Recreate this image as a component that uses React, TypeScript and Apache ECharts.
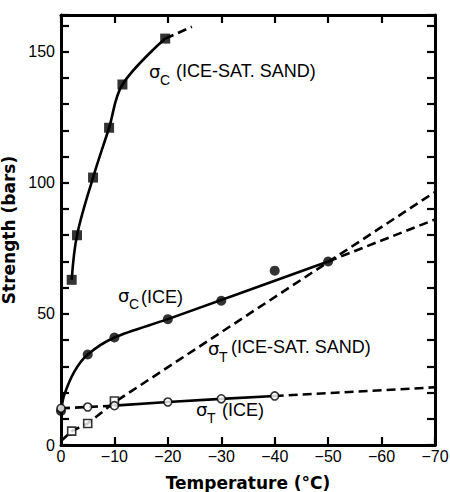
import React, { useEffect, useRef } from "react";
import * as echarts from "echarts";

// ---- data (temperature °C, strength bars) ----
const tempTicks = [0, -10, -20, -30, -40, -50, -60, -70];
const strengthLabels = [0, 50, 100, 150];

// sigma_C (ice-saturated sand) - filled squares
const sandCompPoints: [number, number][] = [[-2, 63], [-3, 80], [-6, 102], [-9, 121], [-11.5, 137.5], [-19.5, 155]];
const sandCompCurve: [number, number][] = [[-2, 63], [-3, 80], [-6, 102], [-9, 121], [-11.5, 137.5], [-19.5, 155]];
const sandCompExt: [number, number][] = [[-19.5, 155], [-24.5, 159.5]];

// sigma_C (ice) - filled circles
const iceCompPoints: [number, number][] = [[0, 13], [-5, 34.5], [-10, 41], [-20, 48], [-30, 55], [-40, 66.5], [-50, 70]];
const iceCompCurve: [number, number][] = [[0, 13], [-0.6, 19], [-2.5, 28], [-5, 34.5], [-10, 41], [-20, 48], [-50, 70]];
const iceCompExt: [number, number][] = [[-50, 70], [-70, 86]];

// sigma_T (ice-saturated sand) - open squares
const sandTensPoints: [number, number][] = [[-2, 5.3], [-5, 8.2], [-10, 16.8]];
const sandTensLine: [number, number][] = [[0, 1.5], [-2, 5.3], [-5, 8.2], [-10, 16.3], [-70, 96.5]];

// sigma_T (ice) - open circles
const iceTensPoints: [number, number][] = [[0, 14], [-5, 14.5], [-10, 15], [-20, 16.4], [-30, 17.6], [-40, 18.7]];
const iceTensDashA: [number, number][] = [[0, 14], [-10, 15]];
const iceTensSolid: [number, number][] = [[-10, 15], [-20, 16.4], [-30, 17.6], [-40, 18.7]];
const iceTensDashB: [number, number][] = [[-40, 18.7], [-70, 22]];

const BLACK = "#000";
const DASH = [9, 5];
const TICK_FONT = "'Liberation Sans', Arial, sans-serif";
const TITLE_FONT = "'DejaVu Sans', sans-serif";

function lineSeries(data: [number, number][], dashed: boolean, smooth: number | boolean = false) {
  return {
    type: "line",
    data,
    showSymbol: false,
    smooth,
    lineStyle: { color: BLACK, width: 2.6, type: dashed ? DASH : "solid", cap: "butt" },
    silent: true,
    z: 2,
  };
}

function markerSeries(data: [number, number][], symbol: string, size: number, filled: boolean) {
  return {
    type: "scatter",
    data,
    symbol,
    symbolSize: size,
    itemStyle: filled
      ? { color: BLACK, borderColor: BLACK, borderWidth: 0 }
      : { color: "#fff", borderColor: BLACK, borderWidth: 1.6 },
    silent: true,
    z: 3,
  };
}

function sigmaLabel(x: number, y: number, sub: string, rest: string, restX: number, restY: number) {
  return [
    {
      type: "text",
      left: x,
      top: y - 12,
      style: { text: "σ", font: "18px 'DejaVu Sans', sans-serif", fill: BLACK },
    },
    {
      type: "text",
      left: x + 11,
      top: y - 1,
      style: { text: sub, font: "14px 'Liberation Sans', Arial, sans-serif", fill: BLACK },
    },
    {
      type: "text",
      left: restX,
      top: restY - 10,
      style: { text: rest, font: "18px 'Liberation Sans', Arial, sans-serif", fill: BLACK },
    },
  ];
}

export default function App() {
  const ref = useRef<HTMLDivElement>(null);

  useEffect(() => {
    if (!ref.current) return;
    const chart = echarts.init(ref.current, null, { renderer: "svg" });
    const axisLine = { show: true, onZero: false, lineStyle: { color: BLACK, width: 3 } };
    const tick = {
      show: true,
      inside: true,
      length: 8,
      lineStyle: { color: BLACK, width: 2.2 },
    };
    const xBase = { type: "value", min: -70, max: 0, interval: 10, inverse: true, axisLine, axisTick: tick, splitLine: { show: false } };
    const yBase = { type: "value", min: 0, max: 164, interval: 10, axisLine, axisTick: tick, splitLine: { show: false } };
    chart.setOption({
      animation: false,
      backgroundColor: "#fff",
      grid: { left: 61, right: 15, top: 15, bottom: 47, containLabel: false, outerBoundsMode: "none" },
      xAxis: [
        {
          ...xBase,
          position: "bottom",
          axisLabel: {
            formatter: (v: number) => (tempTicks.includes(v) ? (v === 0 ? "0" : "−" + Math.abs(v)) : ""),
            color: BLACK,
            fontFamily: TICK_FONT,
            fontSize: 16,
            margin: 3,
            showMinLabel: true,
            showMaxLabel: true,
          },
          name: "Temperature (°C)",
          nameLocation: "middle",
          nameGap: 29,
          nameTextStyle: { fontFamily: TITLE_FONT, fontWeight: "bold", fontSize: 17, color: BLACK },
        },
        { ...xBase, position: "top", axisLabel: { show: false } },
      ],
      yAxis: [
        {
          ...yBase,
          position: "left",
          axisLabel: {
            formatter: (v: number) => (strengthLabels.includes(v) ? String(v) : ""),
            color: BLACK,
            fontFamily: TICK_FONT,
            fontSize: 16,
            margin: 6,
          },
          name: "Strength (bars)",
          nameLocation: "middle",
          nameGap: 28,
          nameTextStyle: { fontFamily: TITLE_FONT, fontWeight: "bold", fontSize: 17, color: BLACK },
        },
        { ...yBase, position: "right", axisLabel: { show: false } },
      ],
      series: [
        lineSeries(sandCompCurve, false, 0.35),
        lineSeries(sandCompExt, true),
        lineSeries(iceCompCurve, false, 0.3),
        lineSeries(iceCompExt, true),
        lineSeries(sandTensLine, true),
        lineSeries(iceTensDashA, true),
        lineSeries(iceTensSolid, false),
        lineSeries(iceTensDashB, true),
        markerSeries(sandCompPoints, "rect", 10, true),
        markerSeries(iceCompPoints, "circle", 10, true),
        markerSeries(sandTensPoints, "rect", 8, false),
        markerSeries(iceTensPoints, "circle", 8, false),
      ],
      graphic: [
        ...sigmaLabel(149, 74, "C", "(ICE-SAT. SAND)", 176, 72),
        ...sigmaLabel(118, 298, "C", "(ICE)", 141, 298),
        ...sigmaLabel(208, 351, "T", "(ICE-SAT. SAND)", 231, 348),
        ...sigmaLabel(196, 412, "T", "(ICE)", 222, 411),
      ],
    });
    return () => chart.dispose();
  }, []);

  return <div ref={ref} style={{ width: 450, height: 492, position: "absolute", left: 0, top: 0 }} />;
}
